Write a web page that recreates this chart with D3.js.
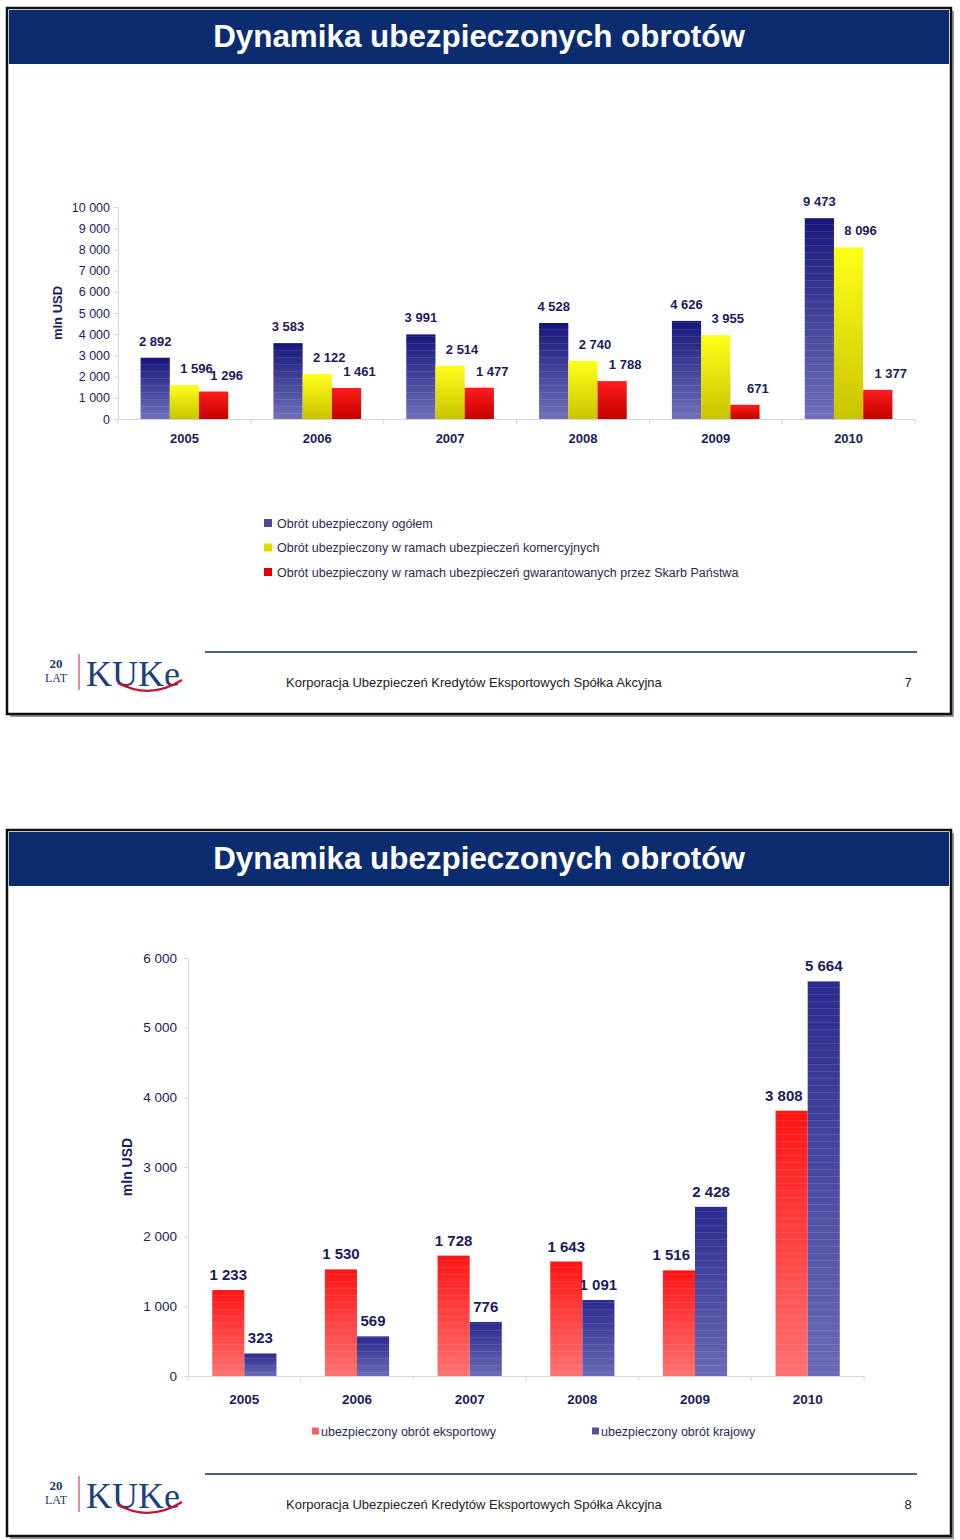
<!DOCTYPE html>
<html><head><meta charset="utf-8">
<script src="https://cdn.jsdelivr.net/npm/d3@7"></script>
<style>body{margin:0;background:#fff}svg{display:block}</style>
</head><body><svg id="c" width="960" height="1540"></svg>
<script>
// ---------- data ----------
const years = ["2005","2006","2007","2008","2009","2010"];
const totalTurnover = [2892,3583,3991,4528,4626,9473];
const commercialTurnover = [1596,2122,2514,2740,3955,8096];
const stateTurnover = [1296,1461,1477,1788,671,1377];
const ticks1 = [0,1000,2000,3000,4000,5000,6000,7000,8000,9000,10000];
const series1Names = ["Obrót ubezpieczony ogółem",
  "Obrót ubezpieczony w ramach ubezpieczeń komercyjnych",
  "Obrót ubezpieczony w ramach ubezpieczeń gwarantowanych przez Skarb Państwa"];
const exportTurnover = [1233,1530,1728,1643,1516,3808];
const domesticTurnover = [323,569,776,1091,2428,5664];
const ticks2 = [0,1000,2000,3000,4000,5000,6000];
const series2Names = ["ubezpieczony obrót eksportowy","ubezpieczony obrót krajowy"];
const titleText = "Dynamika ubezpieczonych obrotów";
const footerText = "Korporacja Ubezpieczeń Kredytów Eksportowych Spółka Akcyjna";
const pageNumbers = ["7","8"];
const axisLabel = "mln USD";

// ---------- setup ----------
const svg = d3.select("#c");
const loc = d3.formatLocale({decimal:",", thousands:" ", grouping:[3], currency:["",""]});
const fmt = loc.format(",d");
const NAVY = "#1b1b5c";
const FONT = "Liberation Sans, Arial, sans-serif";
const defs = svg.append("defs");
function grad(id, top, bottom){
  const g = defs.append("linearGradient").attr("id",id).attr("x1",0).attr("y1",0).attr("x2",0).attr("y2",1);
  g.append("stop").attr("offset","0%").attr("stop-color",top);
  g.append("stop").attr("offset","100%").attr("stop-color",bottom);
}
grad("gBlue1","#17177a","#7070bb");
grad("gYel1","#ffff1a","#c9c400");
grad("gRed1","#ff1c1c","#c40000");
grad("gRed2","#ff1414","#ff7272");
grad("gBlue2","#2b2b8e","#6a6ab6");
const pat = defs.append("pattern").attr("id","stripes").attr("width",4).attr("height",7).attr("patternUnits","userSpaceOnUse");
pat.append("rect").attr("width",4).attr("height",1).attr("fill","#fff").attr("opacity",0.10);

function slide(off, page){
  svg.append("rect").attr("x",10).attr("y",off+11).attr("width",944).attr("height",706).attr("fill","#9a9a9a");
  svg.append("rect").attr("x",7).attr("y",off+8).attr("width",944).attr("height",706)
    .attr("fill","#fff").attr("stroke","#111").attr("stroke-width",2.5);
  svg.append("rect").attr("x",9).attr("y",off+10).attr("width",940).attr("height",54).attr("fill","#0c2c70");
  const t = svg.append("text").attr("x",479).attr("y",off+47).attr("text-anchor","middle")
    .attr("font-family",FONT).attr("font-weight","bold").attr("font-size",30).attr("fill","#fff").text(titleText);
  const w = t.node().getComputedTextLength();
  t.attr("font-size", 30*532/w);
  svg.append("line").attr("x1",205).attr("x2",917).attr("y1",off+652).attr("y2",off+652)
    .attr("stroke","#1b2a55").attr("stroke-width",1.5);
  svg.append("text").attr("x",286).attr("y",off+687).attr("font-family",FONT).attr("font-size",13)
    .attr("fill","#222").text(footerText);
  svg.append("text").attr("x",908).attr("y",off+687).attr("text-anchor","middle").attr("font-family",FONT).attr("font-size",13)
    .attr("fill","#222").text(page);
  const lg = svg.append("g").attr("transform",`translate(0,${off})`);
  lg.append("text").attr("x",56).attr("y",668).attr("text-anchor","middle").attr("font-family","Liberation Serif, serif")
    .attr("font-size",13).attr("font-weight","bold").attr("fill","#24366b").text("20");
  lg.append("text").attr("x",56).attr("y",682).attr("text-anchor","middle").attr("font-family","Liberation Serif, serif")
    .attr("font-size",12).attr("fill","#24366b").text("LAT");
  lg.append("line").attr("x1",79).attr("x2",79).attr("y1",654).attr("y2",690).attr("stroke","#d04050").attr("stroke-width",1.2);
  lg.append("text").attr("x",86).attr("y",686).attr("font-family","Liberation Serif, serif")
    .attr("font-size",36).attr("fill","#1d3f7d").text("KUKe");
  lg.append("path").attr("d","M118 683 Q150 700 182 680").attr("fill","none").attr("stroke","#c8102e").attr("stroke-width",2.2);
}
slide(0, pageNumbers[0]);
slide(822, pageNumbers[1]);

// ---------- chart 1 ----------
{
  const x0 = d3.scaleBand().domain(years).range([118,915]).paddingInner(0.34).paddingOuter(0.17);
  const series = [
    {vals: totalTurnover, fill:"url(#gBlue1)", sw:"#4a4a98", dx:0},
    {vals: commercialTurnover, fill:"url(#gYel1)", sw:"#dede00", dx:12},
    {vals: stateTurnover, fill:"url(#gRed1)", sw:"#e00000", dx:13}];
  const x1 = d3.scaleBand().domain([0,1,2]).range([0,x0.bandwidth()]);
  const y = d3.scaleLinear().domain([0,10000]).range([419,207]);
  const g = svg.append("g");
  const ya = g.append("g").attr("transform","translate(118,0)")
    .call(d3.axisLeft(y).tickValues(ticks1).tickFormat(fmt).tickSize(4).tickPadding(4));
  ya.select(".domain").attr("stroke","#d4d4d4");
  ya.selectAll(".tick line").attr("stroke","#d4d4d4");
  ya.selectAll("text").attr("font-family",FONT).attr("font-size",12.5).attr("fill",NAVY);
  const xa = g.append("g").attr("transform","translate(0,419)")
    .call(d3.axisBottom(x0).tickSize(0).tickPadding(15));
  xa.select(".domain").attr("stroke","#d4d4d4");
  xa.selectAll("text").attr("font-family",FONT).attr("font-size",13).attr("font-weight","bold").attr("fill",NAVY);
  const bounds = years.map((d,i)=>118+i*(797/6)).concat([915]);
  g.selectAll(".sep").data(bounds).join("line").attr("x1",d=>d).attr("x2",d=>d).attr("y1",419).attr("y2",424).attr("stroke","#d4d4d4");
  series.forEach((s,si)=>{
    g.selectAll(null).data(s.vals).join("rect")
      .attr("x",(d,i)=>x0(years[i])+x1(si)).attr("width",x1.bandwidth())
      .attr("y",d=>y(d)).attr("height",d=>419-y(d)).attr("fill",s.fill);
    if(si===0) g.selectAll(null).data(s.vals).join("rect")
      .attr("x",(d,i)=>x0(years[i])+x1(si)).attr("width",x1.bandwidth())
      .attr("y",d=>y(d)).attr("height",d=>419-y(d)).attr("fill","url(#stripes)");
    g.selectAll(null).data(s.vals).join("text")
      .attr("x",(d,i)=>x0(years[i])+x1(si)+x1.bandwidth()/2+s.dx).attr("y",d=>y(d)-12)
      .attr("text-anchor","middle").attr("font-family",FONT).attr("font-weight","bold").attr("font-size",13)
      .attr("fill",NAVY).text(d=>fmt(d));
  });
  g.append("text").attr("transform","translate(62,313) rotate(-90)").attr("text-anchor","middle")
    .attr("font-family",FONT).attr("font-weight","bold").attr("font-size",13).attr("fill",NAVY).text(axisLabel);
  const lg = g.selectAll(".lg1").data(series1Names).join("g").attr("transform",(d,i)=>`translate(264,${523+i*24.5})`);
  lg.append("rect").attr("x",0).attr("y",-4).attr("width",8).attr("height",8).attr("fill",(d,i)=>series[i].sw);
  lg.append("text").attr("x",13).attr("y",4.5).attr("font-family",FONT).attr("font-size",12.5).attr("fill","#2a2a50").text(d=>d);
}

// ---------- chart 2 ----------
{
  const x0 = d3.scaleBand().domain(years).range([188,864]).paddingInner(0.43).paddingOuter(0.215);
  const series = [
    {vals: exportTurnover, fill:"url(#gRed2)", sw:"#f06262"},
    {vals: domesticTurnover, fill:"url(#gBlue2)", sw:"#5454a2"}];
  const x1 = d3.scaleBand().domain([0,1]).range([0,x0.bandwidth()]);
  const y = d3.scaleLinear().domain([0,6000]).range([1376,958]);
  const g = svg.append("g");
  const ya = g.append("g").attr("transform","translate(188,0)")
    .call(d3.axisLeft(y).tickValues(ticks2).tickFormat(fmt).tickSize(4).tickPadding(7));
  ya.select(".domain").attr("stroke","#d8d8d8");
  ya.selectAll(".tick line").attr("stroke","#d8d8d8");
  ya.selectAll("text").attr("font-family",FONT).attr("font-size",13.5).attr("fill",NAVY);
  const xa = g.append("g").attr("transform","translate(0,1376)")
    .call(d3.axisBottom(x0).tickSize(0).tickPadding(18));
  xa.select(".domain").attr("stroke","#d8d8d8");
  xa.selectAll("text").attr("font-family",FONT).attr("font-size",13.5).attr("font-weight","bold").attr("fill",NAVY);
  const bounds = years.map((d,i)=>188+i*(676/6)).concat([864]);
  g.selectAll(".sep").data(bounds).join("line").attr("x1",d=>d).attr("x2",d=>d).attr("y1",1376).attr("y2",1381).attr("stroke","#d8d8d8");
  series.forEach((s,si)=>{
    g.selectAll(null).data(s.vals).join("rect")
      .attr("x",(d,i)=>x0(years[i])+x1(si)).attr("width",x1.bandwidth())
      .attr("y",d=>y(d)).attr("height",d=>1376-y(d)).attr("fill",s.fill);
    g.selectAll(null).data(s.vals).join("rect")
      .attr("x",(d,i)=>x0(years[i])+x1(si)).attr("width",x1.bandwidth())
      .attr("y",d=>y(d)).attr("height",d=>1376-y(d)).attr("fill","url(#stripes)");
    const labels = g.selectAll(null).data(s.vals).join("text")
      .attr("y",d=>y(d)-10)
      .attr("text-anchor","middle").attr("font-family",FONT).attr("font-weight","bold").attr("font-size",15)
      .attr("fill",NAVY).text(d=>fmt(d));
    labels.attr("x",function(d,i){
      let cx = x0(years[i])+x1(si)+x1.bandwidth()/2;
      if(si===0 && domesticTurnover[i] > d){
        const half = this.getComputedTextLength()/2;
        const limit = x0(years[i])+x1(1)-5;
        if(cx+half>limit) cx = limit-half;
      }
      return cx;
    });
  });
  g.append("text").attr("transform","translate(132,1167) rotate(-90)").attr("text-anchor","middle")
    .attr("font-family",FONT).attr("font-weight","bold").attr("font-size",14).attr("fill",NAVY).text(axisLabel);
  const lx = [312,592];
  const lg = g.selectAll(".lg2").data(series2Names).join("g").attr("transform",(d,i)=>`translate(${lx[i]},1431)`);
  lg.append("rect").attr("x",0).attr("y",-3.5).attr("width",7).attr("height",7).attr("fill",(d,i)=>series[i].sw);
  lg.append("text").attr("x",9).attr("y",4.5).attr("font-family",FONT).attr("font-size",12.5).attr("fill","#2a2a50").text(d=>d);
}
</script></body></html>
